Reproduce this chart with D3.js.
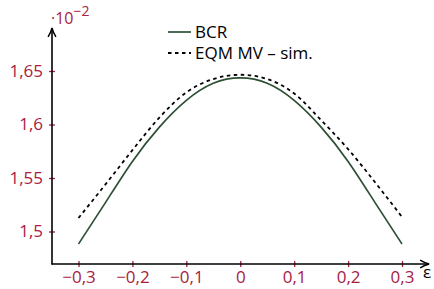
<!DOCTYPE html>
<html>
<head>
<meta charset="utf-8">
<script src="https://cdn.jsdelivr.net/npm/d3@7"></script>
<style>
  body { margin: 0; background: #fff; }
  text { font-family: "Open Sans", "DejaVu Sans", sans-serif; }
</style>
</head>
<body>
<div id="chart"></div>
<script>
// data (values in units of 10^-2)
const epsValues = [-0.3, -0.25, -0.2, -0.15, -0.1, -0.05, 0, 0.05, 0.1, 0.15, 0.2, 0.25, 0.3];
const bcrValues = [1.4883, 1.527, 1.5655, 1.5975, 1.6225, 1.6385, 1.6435, 1.6385, 1.6225, 1.5975, 1.5655, 1.527, 1.4883];
const simValues = [1.5126, 1.544, 1.576, 1.6065, 1.630, 1.6425, 1.6465, 1.6425, 1.629, 1.604, 1.577, 1.546, 1.5136];
const xTicks = [-0.3, -0.2, -0.1, 0, 0.1, 0.2, 0.3];
const yTicks = [1.5, 1.55, 1.6, 1.65];
const seriesNames = ['BCR', 'EQM MV \u2013 sim.'];

const width = 434;
const height = 289;
const red = '#a8213f';
const green = '#2d5034';

var svg = d3.select('#chart')
    .append('svg')
        .attr('width', width)
        .attr('height', height);

let x = d3.scaleLinear()
        .domain([-0.3, 0.3])
        .range([78.5, 402]);

let y = d3.scaleLinear()
        .domain([1.5, 1.65])
        .range([231.5, 71]);

const axisX0 = 52;
const axisY0 = 264;

//arrow marker
svg.append('defs').append('marker')
    .attr('id', 'arrow')
    .attr('viewBox', '0 0 10 10')
    .attr('refX', 8)
    .attr('refY', 5)
    .attr('markerWidth', 7)
    .attr('markerHeight', 7)
    .attr('orient', 'auto')
    .append('path')
        .attr('d', 'M1,1.5 Q5,4 9,5 Q5,6 1,8.5')
        .attr('fill', 'none')
        .attr('stroke', '#000')
        .attr('stroke-width', 1.3);

//ticks first so the axis line sits on top
let gX = svg.append('g')
    .attr('transform', `translate(0,${axisY0})`)
    .call(d3.axisBottom(x)
        .tickValues(xTicks)
        .tickSize(3)
        .tickFormat(d => d3.format('.1f')(d).replace('.', ',').replace('-', '\u2212')));
gX.select('.domain').remove();
gX.selectAll('.tick line').attr('y1', -3).attr('stroke', red).attr('stroke-width', 1.3);
gX.selectAll('.tick text')
    .attr('y', 7)
    .attr('fill', red)
    .style('font-size', '17px');
gX.selectAll('.tick text').filter(d => d === 0).text('0');

let gY = svg.append('g')
    .attr('transform', `translate(${axisX0},0)`)
    .call(d3.axisLeft(y)
        .tickValues(yTicks)
        .tickSize(3)
        .tickFormat(d => String(+d.toFixed(2)).replace('.', ',')));
gY.select('.domain').remove();
gY.selectAll('.tick line').attr('x1', 3).attr('stroke', red).attr('stroke-width', 1.3);
gY.selectAll('.tick text')
    .attr('x', -9)
    .attr('fill', red)
    .style('font-size', '17px');

//axes with arrows
svg.append('line')
    .attr('x1', axisX0 - 0.5).attr('y1', axisY0)
    .attr('x2', 428).attr('y2', axisY0)
    .attr('stroke', '#000').attr('stroke-width', 1.6)
    .attr('marker-end', 'url(#arrow)');

svg.append('line')
    .attr('x1', axisX0).attr('y1', axisY0 + 0.5)
    .attr('x2', axisX0).attr('y2', 29)
    .attr('stroke', '#000').attr('stroke-width', 1.6)
    .attr('marker-end', 'url(#arrow)');

//axis labels
svg.append('text')
    .attr('x', 423).attr('y', 278)
    .style('font-size', '17px')
    .text('\u03b5');

let expo = svg.append('text')
    .attr('x', 51).attr('y', 24)
    .attr('fill', red)
    .style('font-size', '16px');
expo.append('tspan').text('\u00b710');
expo.append('tspan').attr('dy', -8).style('font-size', '14px').text('\u22122');

//curves
let bcrData = epsValues.map((e, i) => ({ e: e, v: bcrValues[i] }));
let simData = epsValues.map((e, i) => ({ e: e, v: simValues[i] }));

svg.append('path')
    .datum(bcrData)
    .attr('fill', 'none')
    .attr('stroke', green)
    .attr('stroke-width', 1.7)
    .attr('d', d3.line().x(d => x(d.e)).y(d => y(d.v)).curve(d3.curveNatural));

svg.append('path')
    .datum(simData)
    .attr('fill', 'none')
    .attr('stroke', '#000')
    .attr('stroke-width', 1.8)
    .attr('stroke-dasharray', '3.5,3.5')
    .attr('d', d3.line().x(d => x(d.e)).y(d => y(d.v)).curve(d3.curveMonotoneX));

//legend
const legendStyles = [
    { stroke: green, dash: null, w: 1.7 },
    { stroke: '#000', dash: '3.5,3.5', w: 1.8 }
];
seriesNames.forEach((name, i) => {
    let ly = 32 + i * 21;
    svg.append('line')
        .attr('x1', 168).attr('x2', 191)
        .attr('y1', ly).attr('y2', ly)
        .attr('stroke', legendStyles[i].stroke)
        .attr('stroke-width', legendStyles[i].w)
        .attr('stroke-dasharray', legendStyles[i].dash);
    svg.append('text')
        .attr('x', 195).attr('y', ly + 6)
        .style('font-size', '17px')
        .text(name);
});
</script>
</body>
</html>
